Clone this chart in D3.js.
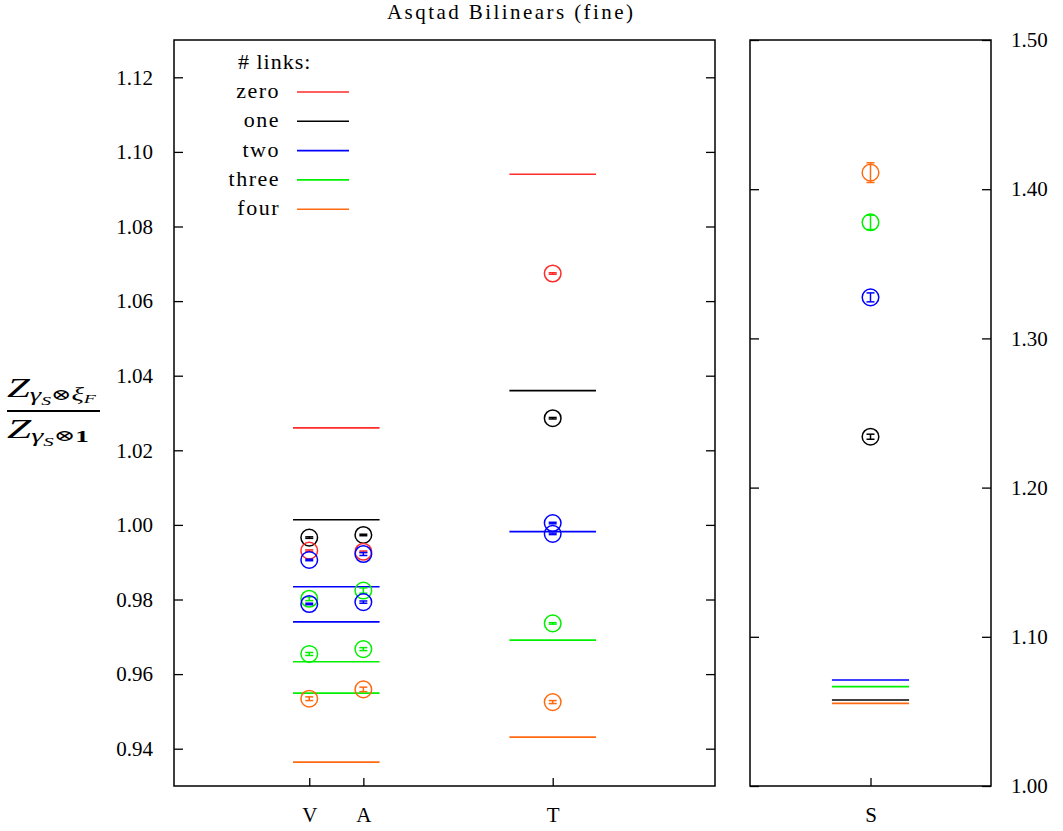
<!DOCTYPE html>
<html><head><meta charset="utf-8">
<script src="https://cdn.jsdelivr.net/npm/d3@7"></script>
<style>body{margin:0;background:#fff}svg{display:block}</style>
</head><body>
<svg id="c" width="1063" height="831"></svg>
<script>
// ---- data ----
const linkNames = ["zero", "one", "two", "three", "four"];
const linkColors = ["#ff2a2a", "#000000", "#0000ff", "#00f000", "#ff6a10"];

const leftCategories = ["V", "A", "T"];
const leftCategoryPos = [1.0, 1.4, 2.8];
const rightCategories = ["S"];
const rightCategoryPos = [1.0];

const leftTicks = [0.94, 0.96, 0.98, 1.00, 1.02, 1.04, 1.06, 1.08, 1.10, 1.12];
const rightTicks = [1.00, 1.10, 1.20, 1.30, 1.40, 1.50];

// horizontal reference lines (V/A shared, T, S)
const vaLineValues = [1.0260, 1.0014, 0.9834, 0.9740, 0.9633, 0.9549, 0.9364];
const vaLineLinks  = [0, 1, 2, 2, 3, 3, 4];
const tLineValues  = [1.0940, 1.0360, 0.9982, 0.9691, 0.9431];
const tLineLinks   = [0, 1, 2, 3, 4];
const sLineValues  = [1.0710, 1.0666, 1.0576, 1.0554];
const sLineLinks   = [2, 3, 1, 4];

// points with errors
const vValues = [0.9966, 0.9931, 0.9906, 0.9802, 0.9788, 0.9654, 0.9534];
const vErrors = [0.0002, 0.0002, 0.0002, 0.0005, 0.0002, 0.0004, 0.0005];
const vLinks  = [1, 0, 2, 3, 2, 3, 4];
const aValues = [0.9973, 0.9928, 0.9922, 0.9824, 0.9793, 0.9667, 0.9559];
const aErrors = [0.0002, 0.0002, 0.0004, 0.0007, 0.0003, 0.0004, 0.0006];
const aLinks  = [1, 0, 2, 3, 2, 3, 4];
const tValues = [1.0674, 1.0286, 1.0005, 0.9976, 0.9736, 0.9525];
const tErrors = [0.0002, 0.0002, 0.0002, 0.0002, 0.0002, 0.0004];
const tLinks  = [0, 1, 2, 2, 3, 4];
const sValues = [1.4111, 1.3778, 1.3275, 1.2341];
const sErrors = [0.0066, 0.0048, 0.0030, 0.0017];
const sLinks  = [4, 3, 2, 1];

// ---- drawing ----
const svg = d3.select("#c");
const FONT = "'Liberation Serif', 'Times New Roman', 'DejaVu Serif', serif";
const L = {x0: 174, x1: 715, y0: 40, y1: 786};
const R = {x0: 750, x1: 991, y0: 40, y1: 786};

const xL = d3.scaleLinear().domain([0, 4]).range([L.x0, L.x1]);
const yL = d3.scaleLinear().domain([0.93, 1.13]).range([L.y1, L.y0]);
const xR = d3.scaleLinear().domain([0, 2]).range([R.x0, R.x1]);
const yR = d3.scaleLinear().domain([1.0, 1.5]).range([R.y1, R.y0]);

const halfW = 0.32;
const capPx = 4;
const rPx = 8.3;

// title
svg.append("text").attr("x", 510).attr("y", 19).attr("text-anchor", "middle")
  .attr("font-family", FONT).attr("font-size", 21)
  .attr("textLength", 246).attr("lengthAdjust", "spacing")
  .text("Asqtad Bilinears (fine)");

function panel(P, x, y, cats, catPos, ticks, labelSide) {
  const g = svg.append("g").attr("font-family", FONT);
  const axL = d3.axisLeft(y).tickValues(ticks).tickSize(-9).tickPadding(labelSide === "left" ? 21 : 0)
    .tickFormat(labelSide === "left" ? d3.format(".2f") : () => "");
  g.append("g").attr("transform", `translate(${P.x0},0)`).call(axL);
  const axR = d3.axisRight(y).tickValues(ticks).tickSize(-9).tickPadding(labelSide === "right" ? 20 : 0)
    .tickFormat(labelSide === "right" ? d3.format(".2f") : () => "");
  g.append("g").attr("transform", `translate(${P.x1},0)`).call(axR);
  const axB = d3.axisBottom(x).tickValues(catPos).tickSize(-8).tickPadding(21)
    .tickFormat((d, i) => cats[i]);
  g.append("g").attr("transform", `translate(0,${P.y1})`).call(axB);
  g.selectAll("g").attr("font-family", FONT);
  g.selectAll(".domain").remove();
  g.selectAll(".tick line").attr("stroke", "#000").attr("stroke-width", 1.3);
  g.selectAll(".tick text").attr("font-family", FONT).attr("font-size", 21).attr("fill", "#000");
  g.append("rect").attr("x", P.x0).attr("y", P.y0).attr("width", P.x1 - P.x0).attr("height", P.y1 - P.y0)
    .attr("fill", "none").attr("stroke", "#000").attr("stroke-width", 1.5);
}
panel(L, xL, yL, leftCategories, leftCategoryPos, leftTicks, "left");
panel(R, xR, yR, rightCategories, rightCategoryPos, rightTicks, "right");

function hlines(x, y, center, values, links) {
  svg.append("g").selectAll("line").data(values).join("line")
    .attr("x1", x(center - halfW)).attr("x2", x(center + halfW))
    .attr("y1", d => y(d)).attr("y2", d => y(d))
    .attr("stroke", (d, i) => linkColors[links[i]]).attr("stroke-width", 1.6);
}
hlines(xL, yL, (leftCategoryPos[0] + leftCategoryPos[1]) / 2, vaLineValues, vaLineLinks);
hlines(xL, yL, leftCategoryPos[2], tLineValues, tLineLinks);
hlines(xR, yR, rightCategoryPos[0], sLineValues, sLineLinks);

function points(x, y, pos, values, errors, links) {
  const g = svg.append("g");
  const cx = x(pos);
  values.forEach((v, i) => {
    const c = linkColors[links[i]];
    const gy = g.append("g").attr("stroke", c).attr("fill", "none").attr("stroke-width", 1.5);
    gy.append("circle").attr("cx", cx).attr("cy", y(v)).attr("r", rPx);
    const yt = y(v + errors[i]), yb = y(v - errors[i]);
    gy.append("line").attr("x1", cx).attr("x2", cx).attr("y1", yt).attr("y2", yb);
    gy.append("line").attr("x1", cx - capPx).attr("x2", cx + capPx).attr("y1", yt).attr("y2", yt);
    gy.append("line").attr("x1", cx - capPx).attr("x2", cx + capPx).attr("y1", yb).attr("y2", yb);
  });
}
points(xL, yL, leftCategoryPos[0], vValues, vErrors, vLinks);
points(xL, yL, leftCategoryPos[1], aValues, aErrors, aLinks);
points(xL, yL, leftCategoryPos[2], tValues, tErrors, tLinks);
points(xR, yR, rightCategoryPos[0], sValues, sErrors, sLinks);

// legend
const lg = svg.append("g").attr("font-family", FONT).attr("font-size", 22);
lg.append("text").attr("x", 238).attr("y", 69).attr("letter-spacing", 1).text("# links:");
linkNames.forEach((n, i) => {
  const yy = 92 + i * 29.3;
  lg.append("text").attr("x", 280).attr("y", yy + 6).attr("text-anchor", "end")
    .attr("letter-spacing", 1.5).text(n);
  lg.append("line").attr("x1", 297).attr("x2", 349).attr("y1", yy).attr("y2", yy)
    .attr("stroke", linkColors[i]).attr("stroke-width", 1.6);
});

// y label (fraction)
const yl = svg.append("g").attr("font-family", FONT).attr("fill", "#000");
function frac(yBase, last, bold, targetW) {
  const t = yl.append("text").attr("x", 0).attr("y", yBase).attr("font-size", 27);
  t.append("tspan").attr("font-style", "italic").text("Z");
  t.append("tspan").attr("font-style", "italic").attr("font-size", 19).attr("dy", 4).text("γ");
  t.append("tspan").attr("font-style", "italic").attr("font-size", 13).attr("dy", 4).text("S");
  t.append("tspan").attr("font-size", 16).attr("dy", -5).text("⊗");
  if (bold) {
    t.append("tspan").attr("font-weight", "bold").attr("font-size", 17).attr("dy", 1).text(last[0]);
  } else {
    t.append("tspan").attr("font-style", "italic").attr("font-size", 19).text(last[0]);
    t.append("tspan").attr("font-style", "italic").attr("font-size", 13).attr("dy", 3).text(last[1]);
  }
  const w = t.node().getComputedTextLength();
  t.attr("transform", `translate(7,0) scale(${targetW / w},1)`);
}
frac(397, ["ξ", "F"], false, 89);
yl.append("line").attr("x1", 7).attr("x2", 100).attr("y1", 411).attr("y2", 411)
  .attr("stroke", "#000").attr("stroke-width", 2.2);
frac(438, ["1"], true, 82);
</script>
</body></html>
